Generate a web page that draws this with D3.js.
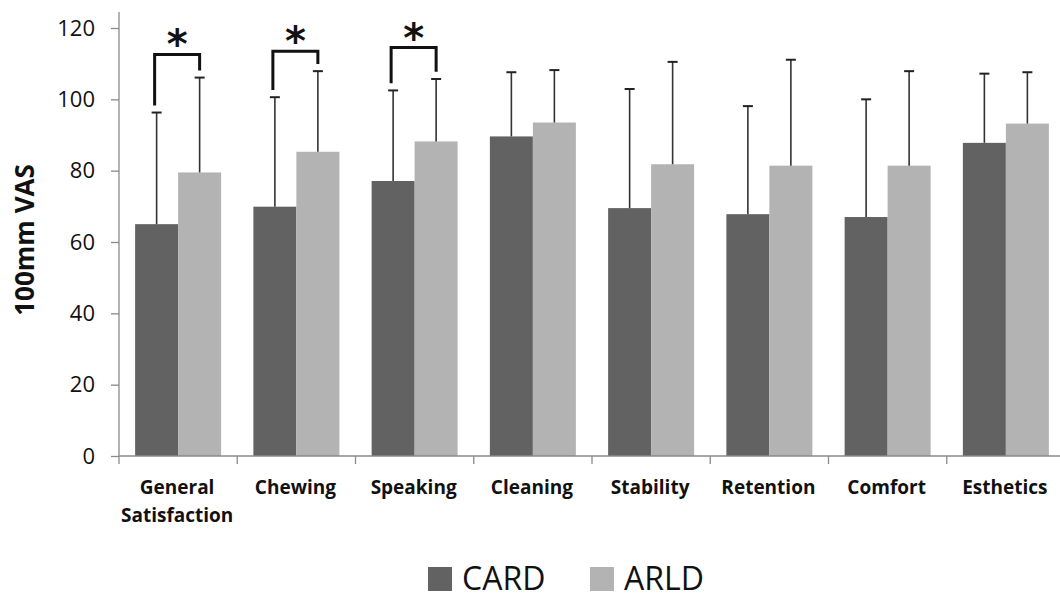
<!DOCTYPE html>
<html>
<head>
<meta charset="utf-8">
<script src="https://cdn.jsdelivr.net/npm/d3@7"></script>
<style>
  html, body { margin: 0; padding: 0; background: #fff; }
  svg { display: block; }
  text { font-family: "Open Sans", "DejaVu Sans", sans-serif; fill: #111; }
</style>
</head>
<body>
<svg id="chart" width="1060" height="599"></svg>
<script>
// Questionnaire domains (two-line labels split on "\n")
const categories = ["General\nSatisfaction", "Chewing", "Speaking", "Cleaning",
                    "Stability", "Retention", "Comfort", "Esthetics"];
const seriesNames = ["CARD", "ARLD"];

// Mean 100mm VAS scores and standard deviations
const cardMean = [65.0, 69.9, 77.1, 89.6, 69.5, 67.8, 67.0, 87.8];
const cardSD   = [31.3, 30.7, 25.4, 18.0, 33.4, 30.3, 33.0, 19.4];
const arldMean = [79.5, 85.3, 88.2, 93.5, 81.8, 81.4, 81.4, 93.2];
const arldSD   = [26.6, 22.6, 17.5, 14.7, 28.7, 29.7, 26.5, 14.4];

// Significant differences (*): category index and bracket height
const sigIndex  = [0, 1, 2];
const sigHeight = [112.6, 113.5, 114.5];

const yTicks = [0, 20, 40, 60, 80, 100, 120];

const colors = ["#626262", "#b3b3b3"];

const svg = d3.select("#chart");
const x0 = 119, x1 = 1065, yBase = 456;

const y = d3.scaleLinear().domain([0, 120]).range([yBase, 28]);
const x = d3.scaleBand().domain(d3.range(categories.length)).range([x0, x1]).paddingInner(0).paddingOuter(0);
const xs = d3.scaleBand().domain([0, 1]).range([0, x.bandwidth()]).paddingInner(0).paddingOuter(0.375);

const data = categories.map((c, i) => ({
  i,
  vals: [
    { s: 0, mean: cardMean[i], sd: cardSD[i] },
    { s: 1, mean: arldMean[i], sd: arldSD[i] }
  ]
}));

// Bars
const groups = svg.append("g").selectAll("g").data(data).join("g")
  .attr("transform", d => `translate(${x(d.i)},0)`);

groups.selectAll("rect").data(d => d.vals).join("rect")
  .attr("x", d => xs(d.s))
  .attr("width", xs.bandwidth())
  .attr("y", d => y(d.mean))
  .attr("height", d => yBase - y(d.mean))
  .attr("fill", d => colors[d.s]);

// Upper error bars
const err = groups.selectAll("g.err").data(d => d.vals).join("g").attr("class", "err");
err.append("line")
  .attr("x1", d => xs(d.s) + xs.bandwidth() / 2)
  .attr("x2", d => xs(d.s) + xs.bandwidth() / 2)
  .attr("y1", d => y(d.mean))
  .attr("y2", d => y(d.mean + d.sd))
  .attr("stroke", "#333").attr("stroke-width", 1.6);
err.append("line")
  .attr("x1", d => xs(d.s) + xs.bandwidth() / 2 - 5)
  .attr("x2", d => xs(d.s) + xs.bandwidth() / 2 + 5)
  .attr("y1", d => y(d.mean + d.sd))
  .attr("y2", d => y(d.mean + d.sd))
  .attr("stroke", "#222").attr("stroke-width", 2);

// Y axis
const yAxis = d3.axisLeft(y).tickValues(yTicks).tickSize(8).tickPadding(16);
const gy = svg.append("g").attr("transform", `translate(${x0},0)`).call(yAxis);
gy.select(".domain").attr("d", `M0,${y(124.5)}V${yBase}`).attr("stroke", "#8a8a8a").attr("stroke-width", 1.3);
gy.selectAll(".tick line").attr("stroke", "#8a8a8a").attr("stroke-width", 1.3);
gy.selectAll(".tick text").style("font-size", "22px").style("font-family", "'Open Sans', sans-serif").attr("fill", "#222");

// X axis with ticks at category boundaries
const xAxisG = svg.append("g");
xAxisG.append("line").attr("x1", x0).attr("x2", x1).attr("y1", yBase).attr("y2", yBase)
  .attr("stroke", "#8a8a8a").attr("stroke-width", 1.3);
xAxisG.selectAll("line.tk").data(d3.range(categories.length + 1)).join("line").attr("class", "tk")
  .attr("x1", i => x0 + i * x.bandwidth()).attr("x2", i => x0 + i * x.bandwidth())
  .attr("y1", yBase).attr("y2", yBase + 8)
  .attr("stroke", "#8a8a8a").attr("stroke-width", 1.3);

const labels = xAxisG.selectAll("text").data(categories).join("text")
  .attr("text-anchor", "middle")
  .style("font-size", "19px").style("font-weight", "700");
labels.each(function (c, i) {
  const t = d3.select(this);
  c.split("\n").forEach((line, k) => {
    t.append("tspan")
      .attr("x", x(i) + x.bandwidth() / 2 - 1)
      .attr("y", 494 + k * 28)
      .text(line);
  });
});

// Y axis title
svg.append("text")
  .attr("transform", `translate(34,${240}) rotate(-90)`)
  .attr("text-anchor", "middle")
  .style("font-size", "26px").style("font-weight", "700")
  .text("100mm VAS");

// Significance brackets with asterisks
sigIndex.forEach((ci, k) => {
  const cx0 = x(ci) + xs(0) + xs.bandwidth() / 2 - 2;
  const cx1 = x(ci) + xs(1) + xs.bandwidth() / 2;
  const top = y(sigHeight[k]);
  const leftEnd = y(cardMean[ci] + cardSD[ci] + 2);
  const rightEnd = y(arldMean[ci] + arldSD[ci] + 2);
  svg.append("path")
    .attr("d", `M${cx0},${leftEnd}V${top}H${cx1}V${rightEnd}`)
    .attr("fill", "none").attr("stroke", "#111").attr("stroke-width", 3);
  svg.append("text")
    .attr("x", (cx0 + cx1) / 2)
    .attr("y", top + 4)
    .attr("text-anchor", "middle")
    .style("font-size", "40px").style("font-weight", "700")
    .style("font-family", "'DejaVu Sans', sans-serif")
    .text("*");
});

// Legend
const legend = svg.append("g");
const legendX = [428, 590];
seriesNames.forEach((name, i) => {
  legend.append("rect").attr("x", legendX[i]).attr("y", 567).attr("width", 24).attr("height", 24).attr("fill", colors[i]);
  legend.append("text").attr("x", legendX[i] + 34).attr("y", 590)
    .style("font-size", "32px").text(name);
});
</script>
</body>
</html>
